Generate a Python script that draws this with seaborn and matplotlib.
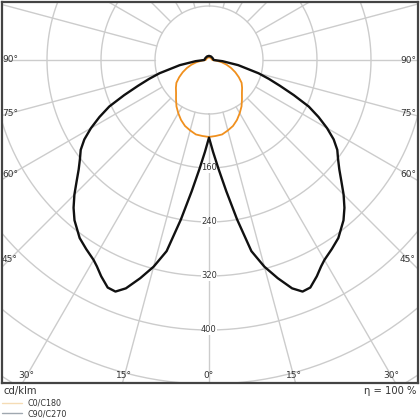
import numpy as np
import pandas as pd
import matplotlib.pyplot as plt
import seaborn as sns
from matplotlib.lines import Line2D

# C0/C180 plane (orange), gamma in degrees, intensity in cd/klm
gamma_c0 = [0, 5, 10, 15, 20, 25, 30, 35, 40, 45, 50, 55, 60, 65, 70, 75, 80, 85, 90, 120, 150, 180]
int_c0 = [114, 113, 112, 108, 104, 98, 91, 84, 76, 69, 64, 59, 51, 43, 35, 27, 19, 11, 5, 4, 4, 4]

# C90/C270 plane (black)
gamma_c90 = [0, 2.5, 5, 7.5, 10, 12.5, 15, 17.5, 20, 22, 24, 26.5, 28.5, 30, 33, 36, 40, 42.5,
             45, 47.5, 50, 52.5, 55, 57.5, 60, 62.5, 65, 67.5, 70, 72.5, 75, 80, 85, 90, 120, 150, 180]
int_c90 = [115, 136, 162, 196, 240, 290, 317, 339, 360, 370, 369, 358, 348, 342, 334, 326, 310, 297,
           282, 266, 252, 241, 232, 219, 202, 183, 163, 136, 112, 93, 76, 44, 20, 7, 6, 6, 6]

ring_values = [80, 160, 240, 320, 400, 480, 560]
ring_labels = [160, 240, 320, 400]
side_angles = [90, 75, 60, 45]
bottom_angles = [30, 15, 0]


def both_sides(g, i):
    g = np.array(g, dtype=float)
    i = np.array(i, dtype=float)
    theta = np.deg2rad(np.concatenate([-g[::-1], g[1:]]))
    r = np.concatenate([i[::-1], i[1:]])
    return pd.DataFrame({"theta": theta, "I": r})


df_c0 = both_sides(gamma_c0, int_c0)
df_c90 = both_sides(gamma_c90, int_c90)

sns.set_style("white")
plt.rcParams['font.family'] = ['DejaVu Sans']

W = 420
cx, cy = 209, 60       # centre of the diagram in pixels (from top-left)
scale = 0.675          # pixels per cd/klm
rmax = 600
R = rmax * scale

fig = plt.figure(figsize=(4.2, 4.2), dpi=100)
ax = fig.add_axes([(cx - R) / W, (W - cy - R) / W, 2 * R / W, 2 * R / W], projection='polar')
ax.set_zorder(1)
frame = fig.add_axes([2 / W, 37 / W, 416 / W, 381 / W])
frame.set_zorder(3)
frame.set_facecolor('none')
frame.set_xticks([])
frame.set_yticks([])
for s in frame.spines.values():
    s.set_color('#444444')
    s.set_linewidth(1.6)

ax.set_theta_zero_location('S')
ax.set_theta_direction(1)

grid_kw = dict(color='#cccccc', lw=1.0, zorder=1)
full = np.linspace(0, 2 * np.pi, 361)
for r in ring_values:
    ax.plot(full, np.full_like(full, r), **grid_kw)
for a in range(0, 360, 15):
    ax.plot([np.deg2rad(a)] * 2, [80, rmax], **grid_kw)

for r in ring_labels:
    ax.text(0, r, str(r), ha='center', va='center', fontsize=6, color='#333333', zorder=2,
            bbox=dict(fc='white', ec='none', pad=0.2))

sns.lineplot(data=df_c0, x="theta", y="I", sort=False, estimator=None, ax=ax,
             color='#f0901e', lw=1.3, zorder=3, legend=False)
sns.lineplot(data=df_c90, x="theta", y="I", sort=False, estimator=None, ax=ax,
             color='#111111', lw=1.7, zorder=4, legend=False)

ax.set_ylim(0, rmax)
ax.set_xticks([])
ax.set_yticks([])
ax.set_xlabel("")
ax.set_ylabel("")
ax.grid(False)
ax.spines['polar'].set_visible(False)
ax.patch.set_visible(False)

for ln in ax.lines:
    ln.set_clip_path(frame.patch)

# angle labels along the frame
for a in side_angles:
    rr = (cx - 10) / scale / np.sin(np.deg2rad(a))
    for sgn in (-1, 1):
        ax.text(sgn * np.deg2rad(a), rr, f"{a}°", ha='center', va='center',
                fontsize=6.5, color='#333333', zorder=2)
for a in bottom_angles:
    rr = (376 - cy) / scale / np.cos(np.deg2rad(a))
    for sgn in ((1,) if a == 0 else (-1, 1)):
        ax.text(sgn * np.deg2rad(a), rr, f"{a}°", ha='center', va='center',
                fontsize=6.5, color='#333333', zorder=2)

fig.text(4 / W, 1 - 391 / W, "cd/klm", va='center', ha='left', fontsize=7.2, color='#333333')
fig.text(416 / W, 1 - 391 / W, "η = 100 %", va='center', ha='right', fontsize=7.2, color='#333333')

handles = [Line2D([], [], color='#f5dcb5', lw=1.0), Line2D([], [], color='#a0a8b0', lw=1.0)]
fig.legend(handles, ["C0/C180", "C90/C270"], loc='upper left', bbox_to_anchor=(2 / W, 1 - 399 / W),
           frameon=False, fontsize=5.8, handlelength=2.5, handletextpad=0.7,
           labelspacing=0.15, borderpad=0, borderaxespad=0, labelcolor='#333333')

fig.savefig("out.png", dpi=100)
